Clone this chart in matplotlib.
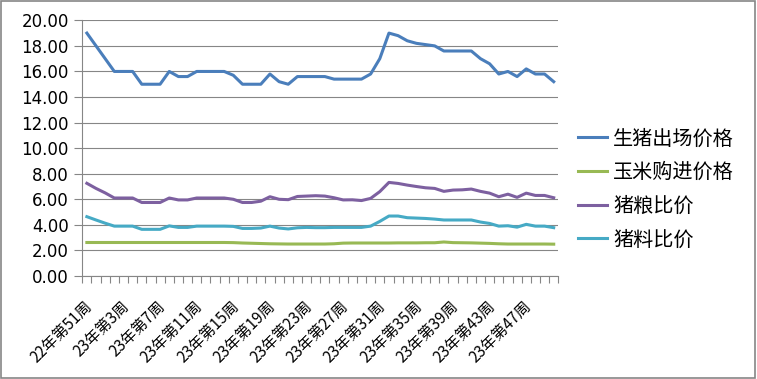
import numpy as np
import matplotlib
matplotlib.use('Agg')
import matplotlib.pyplot as plt
from matplotlib.patches import Rectangle
from matplotlib.transforms import ScaledTranslation

plt.rcParams['font.family'] = ['Noto Sans CJK SC', 'DejaVu Sans']

weeks = ['22年第51周', '22年第52周'] + ['23年第%d周' % w for w in range(1, 51)]

hog_price = [19.0, 18.0, 17.0, 16.0, 16.0, 16.0, 15.0, 15.0, 15.0, 16.0,
             15.6, 15.6, 16.0, 16.0, 16.0, 16.0, 15.7, 15.0, 15.0, 15.0,
             15.8, 15.2, 15.0, 15.6, 15.6, 15.6, 15.6, 15.4, 15.4, 15.4,
             15.4, 15.8, 17.0, 19.0, 18.8, 18.4, 18.2, 18.1, 18.0, 17.6,
             17.6, 17.6, 17.6, 17.0, 16.6, 15.8, 16.0, 15.6, 16.2, 15.8,
             15.8, 15.2]

corn_price = [2.62, 2.62, 2.62, 2.62, 2.62, 2.62, 2.62, 2.62, 2.62, 2.62,
              2.62, 2.62, 2.62, 2.62, 2.62, 2.62, 2.61, 2.58, 2.56, 2.54,
              2.52, 2.51, 2.50, 2.50, 2.50, 2.50, 2.50, 2.52, 2.57, 2.58,
              2.58, 2.58, 2.58, 2.58, 2.59, 2.59, 2.59, 2.60, 2.60, 2.66,
              2.61, 2.60, 2.59, 2.57, 2.55, 2.52, 2.50, 2.50, 2.50, 2.50,
              2.50, 2.49]

hog_grain = [7.25, 6.85, 6.5, 6.1, 6.1, 6.1, 5.75, 5.75, 5.75, 6.1,
             5.95, 5.95, 6.1, 6.1, 6.1, 6.1, 6.0, 5.75, 5.75, 5.85,
             6.2, 6.0, 5.97, 6.22, 6.25, 6.28, 6.25, 6.12, 5.95, 5.96,
             5.9, 6.07, 6.6, 7.32, 7.24, 7.11, 7.0, 6.9, 6.85, 6.62,
             6.72, 6.74, 6.8, 6.62, 6.48, 6.2, 6.4, 6.15, 6.48, 6.3,
             6.3, 6.12]

hog_feed = [4.64, 4.38, 4.13, 3.9, 3.9, 3.9, 3.65, 3.65, 3.65, 3.92,
            3.8, 3.8, 3.9, 3.9, 3.9, 3.9, 3.88, 3.72, 3.72, 3.75,
            3.9, 3.75, 3.68, 3.77, 3.8, 3.78, 3.78, 3.8, 3.8, 3.8,
            3.8, 3.9, 4.27, 4.69, 4.69, 4.56, 4.53, 4.5, 4.45, 4.38,
            4.38, 4.38, 4.38, 4.22, 4.11, 3.9, 3.93, 3.82, 4.04, 3.9,
            3.9, 3.78]

series_names = ['生猪出场价格', '玉米购进价格', '猪粮比价', '猪料比价']
colors = ['#4a7ebb', '#98b954', '#7d60a0', '#46aac5']
gray = '#868686'

fig = plt.figure(figsize=(7.57, 3.79), dpi=100)
ax = fig.add_axes([0.1087, 0.2718, 0.6288, 0.6746])

x = np.arange(len(weeks))
for vals, name, c in zip([hog_price, corn_price, hog_grain, hog_feed], series_names, colors):
    ax.plot(x, vals, color=c, lw=2.2, label=name, solid_joinstyle='round', zorder=3)

ax.set_xlim(-0.5, len(weeks) - 0.5)
ax.set_ylim(0, 20)
ax.set_yticks(np.arange(0, 21, 2))
ax.set_yticklabels(['%.2f' % v for v in np.arange(0, 21, 2)], family='DejaVu Sans', fontsize=12)
ax.grid(axis='y', color=gray, lw=0.8, zorder=0)
ax.tick_params(axis='y', direction='out', length=5.8, width=0.8, color=gray, pad=4)

for s in ['top', 'right']:
    ax.spines[s].set_visible(False)
for s in ['left', 'bottom']:
    ax.spines[s].set_color(gray)
    ax.spines[s].set_linewidth(0.8)

ax.set_xticks(x[::4])
ax.set_xticklabels(weeks[::4], rotation=45, ha='right', va='top', fontsize=11)
ax.set_xticks(np.arange(-0.5, len(weeks), 1), minor=True)
ax.tick_params(axis='x', which='major', length=0, pad=15.5)
ax.tick_params(axis='x', which='minor', direction='out', length=5, width=0.8, color=gray)
offset = ScaledTranslation(9 / 100, 0, fig.dpi_scale_trans)
for lab in ax.get_xticklabels():
    lab.set_transform(lab.get_transform() + offset)

ax.legend(loc='center left', bbox_to_anchor=(578 / 757, 0.5), bbox_transform=fig.transFigure,
          frameon=False, fontsize=14.5, handlelength=1.44, handletextpad=0.3,
          labelspacing=0.63, borderpad=0, borderaxespad=0)

fig.patches.append(Rectangle((0.001, 0.002), 0.997, 0.995, transform=fig.transFigure,
                             fill=False, edgecolor=gray, lw=1.2))

fig.savefig('out.png', dpi=100)
